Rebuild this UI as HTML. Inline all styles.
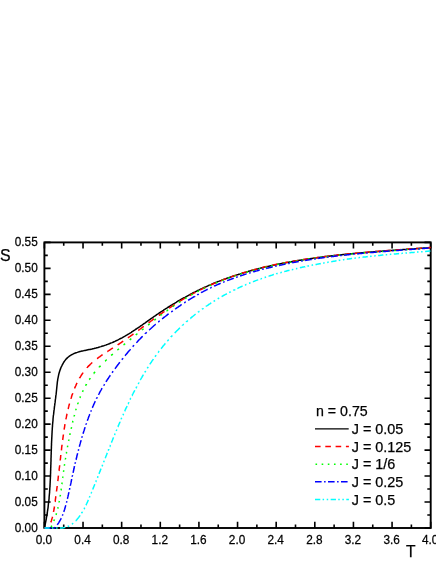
<!DOCTYPE html>
<html><head><meta charset="utf-8"><title>S vs T</title>
<style>
html,body{margin:0;padding:0;background:#fff;}
body{width:436px;height:564px;overflow:hidden;position:relative;font-family:"Liberation Sans",sans-serif;}
</style></head><body>
<svg width="436" height="564" viewBox="0 0 436 564" style="position:absolute;left:0;top:0">
<rect width="436" height="564" fill="#fff"/>
<path d="M44.40 528.00 v-6.20 M44.40 242.40 v6.20 M63.72 528.00 v-3.40 M63.72 242.40 v3.40 M83.03 528.00 v-6.20 M83.03 242.40 v6.20 M102.34 528.00 v-3.40 M102.34 242.40 v3.40 M121.66 528.00 v-6.20 M121.66 242.40 v6.20 M140.97 528.00 v-3.40 M140.97 242.40 v3.40 M160.29 528.00 v-6.20 M160.29 242.40 v6.20 M179.61 528.00 v-3.40 M179.61 242.40 v3.40 M198.92 528.00 v-6.20 M198.92 242.40 v6.20 M218.24 528.00 v-3.40 M218.24 242.40 v3.40 M237.55 528.00 v-6.20 M237.55 242.40 v6.20 M256.87 528.00 v-3.40 M256.87 242.40 v3.40 M276.18 528.00 v-6.20 M276.18 242.40 v6.20 M295.50 528.00 v-3.40 M295.50 242.40 v3.40 M314.81 528.00 v-6.20 M314.81 242.40 v6.20 M334.12 528.00 v-3.40 M334.12 242.40 v3.40 M353.44 528.00 v-6.20 M353.44 242.40 v6.20 M372.75 528.00 v-3.40 M372.75 242.40 v3.40 M392.07 528.00 v-6.20 M392.07 242.40 v6.20 M411.38 528.00 v-3.40 M411.38 242.40 v3.40 M430.70 528.00 v-6.20 M430.70 242.40 v6.20 M44.40 528.00 h6.20 M430.70 528.00 h-6.20 M44.40 515.02 h3.40 M430.70 515.02 h-3.40 M44.40 502.04 h6.20 M430.70 502.04 h-6.20 M44.40 489.05 h3.40 M430.70 489.05 h-3.40 M44.40 476.07 h6.20 M430.70 476.07 h-6.20 M44.40 463.09 h3.40 M430.70 463.09 h-3.40 M44.40 450.11 h6.20 M430.70 450.11 h-6.20 M44.40 437.13 h3.40 M430.70 437.13 h-3.40 M44.40 424.15 h6.20 M430.70 424.15 h-6.20 M44.40 411.16 h3.40 M430.70 411.16 h-3.40 M44.40 398.18 h6.20 M430.70 398.18 h-6.20 M44.40 385.20 h3.40 M430.70 385.20 h-3.40 M44.40 372.22 h6.20 M430.70 372.22 h-6.20 M44.40 359.24 h3.40 M430.70 359.24 h-3.40 M44.40 346.25 h6.20 M430.70 346.25 h-6.20 M44.40 333.27 h3.40 M430.70 333.27 h-3.40 M44.40 320.29 h6.20 M430.70 320.29 h-6.20 M44.40 307.31 h3.40 M430.70 307.31 h-3.40 M44.40 294.33 h6.20 M430.70 294.33 h-6.20 M44.40 281.35 h3.40 M430.70 281.35 h-3.40 M44.40 268.36 h6.20 M430.70 268.36 h-6.20 M44.40 255.38 h3.40 M430.70 255.38 h-3.40 M44.40 242.40 h6.20 M430.70 242.40 h-6.20" stroke="#000" stroke-width="1.6" fill="none"/>
<rect x="44.40" y="242.40" width="386.30" height="285.60" fill="none" stroke="#000" stroke-width="1.90"/>
<path d="M44.4 528.0L44.5 527.8L44.7 526.8L44.9 525.8L45.1 524.8L45.3 523.8L45.5 522.9L45.7 521.9L45.9 520.9L46.1 519.9L46.3 518.9L46.4 517.9L46.6 516.9L46.8 516.0L46.9 515.0L47.1 514.0L47.3 513.0L47.4 512.0L47.5 511.0L47.7 510.0L47.8 509.1L48.0 508.1L48.1 507.1L48.2 506.1L48.3 505.1L48.4 504.1L48.5 503.1L48.7 502.1L48.8 501.1L48.9 500.2L49.0 499.2L49.1 498.2L49.1 497.2L49.2 496.2L49.3 495.2L49.4 494.2L49.5 493.2L49.6 492.2L49.6 491.2L49.7 490.2L49.8 489.2L49.8 488.2L49.9 487.2L50.0 486.3L50.0 485.3L50.1 484.3L50.1 483.3L50.2 482.3L50.2 481.3L50.3 480.3L50.3 479.3L50.4 478.3L50.4 477.3L50.5 476.3L50.5 475.3L50.5 474.3L50.6 473.3L50.6 472.3L50.6 471.3L50.7 470.3L50.7 469.3L50.7 468.3L50.8 467.3L50.8 466.3L50.8 465.3L50.9 464.3L50.9 463.3L50.9 462.3L51.0 461.3L51.0 460.3L51.0 459.3L51.0 458.3L51.1 457.3L51.1 456.3L51.1 455.3L51.2 454.3L51.2 453.3L51.2 452.3L51.3 451.3L51.3 450.3L51.3 449.3L51.4 448.3L51.4 447.3L51.4 446.3L51.5 445.3L51.5 444.3L51.5 443.3L51.6 442.3L51.6 441.3L51.7 440.3L51.7 439.3L51.8 438.3L51.8 437.3L51.9 436.3L51.9 435.3L52.0 434.3L52.0 433.3L52.1 432.3L52.1 431.3L52.2 430.3L52.3 429.3L52.3 428.3L52.4 427.3L52.5 426.3L52.5 425.3L52.6 424.3L52.7 423.3L52.8 422.3L52.9 421.3L53.0 420.3L53.0 419.3L53.1 418.3L53.2 417.3L53.3 416.3L53.4 415.3L53.6 414.4L53.7 413.4L53.8 412.4L53.9 411.4L54.0 410.4L54.2 409.4L54.3 408.4L54.4 407.4L54.5 406.4L54.7 405.4L54.8 404.4L54.9 403.4L55.1 402.4L55.2 401.4L55.3 400.4L55.4 399.4L55.6 398.4L55.7 397.4L55.8 396.4L55.9 395.4L56.1 394.4L56.2 393.5L56.3 392.5L56.4 391.5L56.5 390.5L56.6 389.5L56.7 388.5L56.8 387.5L56.9 386.5L57.0 385.5L57.1 384.6L57.2 383.6L57.3 382.6L57.4 381.6L57.6 380.6L57.7 379.6L57.9 378.7L58.1 377.7L58.3 376.7L58.5 375.7L58.7 374.7L58.9 373.8L59.2 372.8L59.5 371.8L59.8 370.8L60.1 369.9L60.5 368.9L60.8 368.0L61.2 367.0L61.7 366.1L62.1 365.2L62.6 364.3L63.1 363.4L63.6 362.5L64.1 361.7L64.7 360.9L65.3 360.1L65.9 359.3L66.6 358.6L67.3 357.9L68.0 357.3L68.7 356.7L69.4 356.1L70.2 355.6L71.0 355.1L71.8 354.6L72.7 354.2L73.5 353.8L74.4 353.4L75.3 353.0L76.2 352.7L77.2 352.4L78.1 352.1L79.1 351.8L80.0 351.6L81.0 351.3L82.0 351.1L83.0 350.9L84.0 350.6L85.0 350.4L86.0 350.2L87.0 350.0L88.0 349.8L89.0 349.6L90.0 349.4L91.0 349.2L92.0 349.0L93.0 348.7L94.0 348.5L95.0 348.2L96.0 348.0L97.0 347.7L98.0 347.5L98.9 347.2L99.9 346.9L100.9 346.6L101.8 346.3L102.8 346.0L103.8 345.7L104.7 345.4L105.7 345.1L106.6 344.7L107.6 344.4L108.5 344.0L109.4 343.7L110.3 343.3L111.3 342.9L112.2 342.6L113.1 342.2L114.0 341.8L114.9 341.4L115.8 340.9L116.7 340.5L117.6 340.1L118.5 339.6L119.3 339.2L120.2 338.7L121.1 338.3L122.0 337.8L122.8 337.3L123.7 336.8L124.5 336.4L125.4 335.9L126.2 335.4L127.1 334.9L127.9 334.3L128.8 333.8L129.6 333.3L130.5 332.8L131.3 332.3L132.1 331.7L133.0 331.2L133.8 330.6L134.6 330.1L135.4 329.5L136.3 329.0L137.1 328.4L137.9 327.9L138.7 327.3L139.5 326.8L140.4 326.2L141.2 325.6L142.0 325.1L142.8 324.5L143.6 323.9L144.4 323.3L145.3 322.8L146.1 322.2L146.9 321.6L147.7 321.0L148.5 320.5L149.3 319.9L150.1 319.3L151.0 318.7L151.8 318.2L152.6 317.6L153.4 317.0L154.2 316.4L155.1 315.9L155.9 315.3L156.7 314.7L157.5 314.2L158.4 313.6L159.2 313.0L160.0 312.5L160.9 311.9L161.7 311.4L162.6 310.8L163.4 310.3L164.2 309.7L165.1 309.2L165.9 308.6L166.8 308.1L167.6 307.5L168.5 307.0L169.3 306.5L170.2 305.9L171.0 305.4L171.9 304.9L172.7 304.3L173.6 303.8L174.5 303.3L175.3 302.8L176.2 302.3L177.1 301.7L177.9 301.2L178.8 300.7L179.7 300.2L180.5 299.7L181.4 299.2L182.3 298.7L183.2 298.2L184.1 297.7L184.9 297.3L185.8 296.8L186.7 296.3L187.6 295.8L188.5 295.3L189.4 294.9L190.2 294.4L191.1 293.9L192.0 293.5L192.9 293.0L193.8 292.5L194.7 292.1L195.6 291.6L196.5 291.2L197.4 290.7L198.3 290.3L199.2 289.9L200.1 289.4L201.0 289.0L201.9 288.6L202.8 288.1L203.7 287.7L204.6 287.3L205.6 286.9L206.5 286.5L207.4 286.1L208.3 285.6L209.2 285.2L210.1 284.9L211.1 284.5L212.0 284.1L212.9 283.7L213.8 283.3L214.7 282.9L215.7 282.5L216.6 282.2L217.5 281.8L218.4 281.4L219.4 281.1L220.3 280.7L221.2 280.4L222.2 280.0L223.1 279.6L224.0 279.3L225.0 279.0L225.9 278.6L226.8 278.3L227.8 277.9L228.7 277.6L229.7 277.3L230.6 277.0L231.5 276.6L232.5 276.3L233.4 276.0L234.4 275.7L235.3 275.4L236.3 275.1L237.2 274.8L238.2 274.5L239.1 274.2L240.1 273.9L241.0 273.6L242.0 273.3L242.9 273.0L243.9 272.7L244.8 272.4L245.8 272.2L246.7 271.9L247.7 271.6L248.6 271.3L249.6 271.1L250.6 270.8L251.5 270.5L252.5 270.3L253.4 270.0L254.4 269.8L255.4 269.5L256.3 269.3L257.3 269.0L258.3 268.8L259.2 268.5L260.2 268.3L261.2 268.0L262.1 267.8L263.1 267.6L264.1 267.3L265.0 267.1L266.0 266.9L267.0 266.7L267.9 266.4L268.9 266.2L269.9 266.0L270.9 265.8L271.8 265.6L272.8 265.4L273.8 265.1L274.8 264.9L275.7 264.7L276.7 264.5L277.7 264.3L278.7 264.1L279.6 263.9L280.6 263.7L281.6 263.5L282.6 263.3L283.6 263.1L284.5 263.0L285.5 262.8L286.5 262.6L287.5 262.4L288.5 262.2L289.4 262.0L290.4 261.9L291.4 261.7L292.4 261.5L293.4 261.3L294.4 261.2L295.3 261.0L296.3 260.8L297.3 260.7L298.3 260.5L299.3 260.3L300.3 260.2L301.3 260.0L302.2 259.9L303.2 259.7L304.2 259.5L305.2 259.4L306.2 259.2L307.2 259.1L308.2 258.9L309.2 258.8L310.2 258.7L311.1 258.5L312.1 258.4L313.1 258.2L314.1 258.1L315.1 257.9L316.1 257.8L317.1 257.7L318.1 257.5L319.1 257.4L320.1 257.3L321.1 257.2L322.1 257.0L323.1 256.9L324.1 256.8L325.0 256.6L326.0 256.5L327.0 256.4L328.0 256.3L329.0 256.2L330.0 256.0L331.0 255.9L332.0 255.8L333.0 255.7L334.0 255.6L335.0 255.5L336.0 255.4L337.0 255.2L338.0 255.1L339.0 255.0L340.0 254.9L341.0 254.8L342.0 254.7L343.0 254.6L344.0 254.5L345.0 254.4L346.0 254.3L347.0 254.2L348.0 254.1L349.0 254.0L350.0 253.9L351.0 253.8L352.0 253.7L353.0 253.6L354.0 253.5L355.0 253.4L356.0 253.3L357.0 253.2L358.0 253.2L359.0 253.1L360.0 253.0L361.0 252.9L362.0 252.8L363.0 252.7L364.0 252.6L365.0 252.5L366.0 252.5L367.0 252.4L368.0 252.3L369.0 252.2L370.0 252.1L371.0 252.0L372.0 252.0L373.0 251.9L374.0 251.8L375.0 251.7L376.0 251.6L377.0 251.6L378.0 251.5L379.0 251.4L380.0 251.3L380.9 251.2L381.9 251.2L382.9 251.1L383.9 251.0L384.9 250.9L385.9 250.9L386.9 250.8L387.9 250.7L388.9 250.6L389.9 250.6L390.9 250.5L391.9 250.4L392.9 250.3L393.9 250.3L394.9 250.2L395.9 250.1L396.9 250.1L397.9 250.0L398.9 249.9L399.9 249.8L400.9 249.8L401.9 249.7L402.9 249.6L403.9 249.6L404.9 249.5L405.9 249.4L406.9 249.3L407.9 249.3L408.9 249.2L409.9 249.1L410.9 249.1L411.9 249.0L412.8 248.9L413.8 248.8L414.8 248.8L415.8 248.7L416.8 248.6L417.8 248.6L418.8 248.5L419.8 248.4L420.8 248.3L421.8 248.3L422.8 248.2L423.8 248.1L424.8 248.0L425.7 248.0L426.7 247.9L427.7 247.8L428.7 247.7L429.7 247.7L430.7 247.6" stroke="#000" stroke-width="1.5" fill="none" stroke-linejoin="round"/>
<path d="M44.4 528.0L48.6 528.0L48.9 527.3L49.0 527.1 M50.8 522.4L50.9 522.2L51.1 521.5L51.4 520.8L51.6 520.0L51.8 519.3L52.0 518.6L52.2 517.9L52.4 517.2L52.5 516.8 M53.5 512.1L53.5 511.9L53.7 511.2L53.8 510.5L53.9 509.8L54.1 509.0L54.2 508.3L54.3 507.6L54.4 506.9L54.5 506.5 M55.1 501.8L55.2 501.7L55.3 501.0L55.3 500.3L55.4 499.5L55.5 498.8L55.6 498.1L55.7 497.3L55.8 496.6L55.9 496.2 M56.5 491.5L56.5 491.4L56.6 490.6L56.7 489.9L56.8 489.2L56.9 488.4L57.0 487.7L57.1 486.9L57.2 486.2L57.2 485.9 M57.8 481.2L57.8 481.2L57.9 480.5L58.0 479.7L58.1 479.0L58.2 478.2L58.2 477.5L58.3 476.7L58.4 476.0L58.5 475.6 M59.0 470.9L59.1 470.7L59.1 470.0L59.2 469.2L59.3 468.5L59.4 467.7L59.5 467.0L59.6 466.2L59.7 465.5L59.7 465.3 M60.2 460.6L60.2 460.5L60.3 459.7L60.4 459.0L60.5 458.2L60.6 457.5L60.6 456.7L60.7 456.0L60.8 455.2L60.8 455.0 M61.4 450.3L61.4 450.3L61.5 449.5L61.6 448.8L61.6 448.0L61.7 447.3L61.8 446.5L61.9 445.8L62.0 445.0L62.0 444.7 M62.6 440.0L62.7 439.8L62.8 439.1L62.9 438.3L63.0 437.6L63.1 436.9L63.2 436.1L63.3 435.4L63.4 434.6L63.4 434.4 M64.1 429.7L64.1 429.7L64.2 429.0L64.3 428.2L64.5 427.5L64.6 426.7L64.7 426.0L64.8 425.3L64.9 424.5L65.0 424.1 M65.9 419.4L65.9 419.4L66.0 418.6L66.2 417.9L66.3 417.2L66.5 416.4L66.6 415.7L66.8 415.0L66.9 414.2L67.0 413.8 M68.1 409.1L68.1 409.1L68.3 408.4L68.5 407.6L68.6 406.9L68.8 406.2L69.0 405.4L69.2 404.7L69.4 404.0L69.5 403.5 M70.9 398.8L70.9 398.7L71.2 398.0L71.4 397.2L71.6 396.5L71.8 395.8L72.1 395.1L72.3 394.4L72.6 393.7L72.7 393.2 M74.5 388.5L74.6 388.3L74.9 387.6L75.2 386.9L75.5 386.2L75.8 385.6L76.1 384.9L76.4 384.2L76.7 383.5L77.1 382.9 M79.6 378.2L79.6 378.1L80.0 377.5L80.4 376.8L80.8 376.2L81.1 375.6L81.5 375.0L82.0 374.3L82.4 373.7L82.8 373.1L83.2 372.6 M86.9 367.9L87.0 367.7L87.5 367.2L88.0 366.6L88.5 366.1L89.0 365.6L89.6 365.1L90.1 364.5L90.6 364.0L91.2 363.5L91.7 363.0L92.3 362.5L92.3 362.5 M97.0 358.7L97.2 358.6L97.8 358.1L98.4 357.6L99.0 357.2L99.6 356.8L100.2 356.3L100.8 355.9L101.5 355.4L102.1 355.0L102.6 354.7 M107.3 351.5L107.4 351.5L108.0 351.1L108.7 350.7L109.3 350.3L109.9 349.9L110.6 349.4L111.2 349.0L111.8 348.6L112.5 348.2L112.9 347.9 M117.6 344.9L117.7 344.8L118.3 344.4L119.0 344.0L119.6 343.6L120.2 343.2L120.8 342.8L121.4 342.4L122.1 341.9L122.7 341.5L123.2 341.2 M127.9 337.9L128.0 337.8L128.6 337.4L129.3 337.0L129.9 336.5L130.5 336.1L131.1 335.6L131.7 335.2L132.3 334.8L132.9 334.3L133.5 333.9 M138.2 330.5L138.4 330.4L139.0 329.9L139.6 329.5L140.2 329.0L140.8 328.6L141.4 328.1L142.0 327.7L142.6 327.2L143.2 326.8L143.8 326.4 M148.5 322.9L148.7 322.8L149.3 322.3L149.9 321.9L150.5 321.4L151.1 321.0L151.7 320.6L152.3 320.1L152.9 319.7L153.5 319.2L154.1 318.8 M158.8 315.4L159.0 315.3L159.6 314.8L160.2 314.4L160.8 313.9L161.5 313.5L162.1 313.1L162.7 312.6L163.3 312.2L163.9 311.8L164.4 311.4 M169.1 308.2L169.3 308.1L169.9 307.7L170.5 307.3L171.1 306.8L171.7 306.4L172.4 306.0L173.0 305.6L173.6 305.2L174.2 304.8L174.7 304.5 M179.4 301.5L179.5 301.4L180.1 301.0L180.8 300.7L181.4 300.3L182.1 299.9L182.7 299.5L183.3 299.1L184.0 298.7L184.6 298.3L185.0 298.1 M189.7 295.5L189.8 295.4L190.5 295.0L191.1 294.7L191.8 294.3L192.5 293.9L193.1 293.6L193.8 293.2L194.4 292.9L195.1 292.5L195.3 292.4 M200.0 290.0L200.2 289.9L200.9 289.6L201.5 289.3L202.2 288.9L202.9 288.6L203.6 288.3L204.2 288.0L204.9 287.6L205.6 287.3L205.6 287.3 M210.3 285.2L210.3 285.1L211.0 284.8L211.7 284.5L212.4 284.2L213.1 283.9L213.8 283.6L214.5 283.3L215.1 283.1L215.8 282.8L215.9 282.7 M220.6 280.8L220.7 280.8L221.4 280.5L222.1 280.2L222.8 279.9L223.5 279.7L224.2 279.4L224.9 279.1L225.6 278.9L226.2 278.6 M230.9 276.9L231.0 276.9L231.7 276.6L232.4 276.4L233.1 276.1L233.8 275.9L234.5 275.7L235.2 275.4L235.9 275.2L236.5 275.0 M241.2 273.4L241.4 273.4L242.1 273.2L242.8 272.9L243.5 272.7L244.2 272.5L245.0 272.3L245.7 272.1L246.4 271.9L246.8 271.7 M251.5 270.4L251.7 270.3L252.4 270.1L253.1 269.9L253.9 269.7L254.6 269.5L255.3 269.4L256.0 269.2L256.8 269.0L257.1 268.9 M261.8 267.7L261.8 267.7L262.6 267.5L263.3 267.3L264.0 267.1L264.8 267.0L265.5 266.8L266.2 266.6L267.0 266.5L267.4 266.4 M272.1 265.3L272.3 265.3L273.1 265.1L273.8 264.9L274.5 264.8L275.3 264.6L276.0 264.5L276.8 264.3L277.5 264.2L277.7 264.1 M282.4 263.2L282.7 263.2L283.4 263.0L284.1 262.9L284.9 262.7L285.6 262.6L286.3 262.5L287.1 262.3L287.8 262.2L288.0 262.2 M292.7 261.3L292.8 261.3L293.5 261.2L294.2 261.1L295.0 261.0L295.7 260.8L296.5 260.7L297.2 260.6L298.0 260.5L298.3 260.4 M303.0 259.7L303.2 259.6L303.9 259.5L304.6 259.4L305.4 259.3L306.1 259.2L306.9 259.1L307.6 259.0L308.4 258.9L308.6 258.8 M313.3 258.2L313.6 258.1L314.3 258.0L315.0 257.9L315.8 257.8L316.5 257.7L317.3 257.6L318.0 257.5L318.8 257.4L318.9 257.4 M323.6 256.8L323.7 256.8L324.5 256.7L325.2 256.6L325.9 256.5L326.7 256.4L327.4 256.3L328.2 256.2L328.9 256.1L329.2 256.1 M333.9 255.6L334.1 255.5L334.9 255.4L335.6 255.4L336.4 255.3L337.1 255.2L337.8 255.1L338.6 255.0L339.3 255.0L339.5 254.9 M344.2 254.4L344.3 254.4L345.0 254.3L345.8 254.3L346.5 254.2L347.3 254.1L348.0 254.0L348.8 254.0L349.5 253.9L349.8 253.9 M354.5 253.4L354.7 253.4L355.5 253.3L356.2 253.2L357.0 253.2L357.7 253.1L358.4 253.0L359.2 253.0L359.9 252.9L360.1 252.9 M364.8 252.5L364.9 252.5L365.6 252.4L366.4 252.3L367.1 252.3L367.9 252.2L368.6 252.1L369.4 252.1L370.1 252.0L370.4 252.0 M375.1 251.6L375.3 251.6L376.1 251.5L376.8 251.4L377.6 251.4L378.3 251.3L379.1 251.3L379.8 251.2L380.6 251.1L380.7 251.1 M385.4 250.8L385.5 250.8L386.3 250.7L387.0 250.6L387.8 250.6L388.5 250.5L389.3 250.5L390.0 250.4L390.8 250.4L391.0 250.3 M395.7 250.0L395.8 250.0L396.5 249.9L397.2 249.9L398.0 249.8L398.7 249.8L399.5 249.7L400.2 249.7L401.0 249.6L401.3 249.6 M406.0 249.2L406.2 249.2L407.0 249.2L407.7 249.1L408.5 249.1L409.2 249.0L410.0 249.0L410.7 248.9L411.5 248.9L411.6 248.9 M416.3 248.5L416.5 248.5L417.2 248.5L418.0 248.4L418.7 248.4L419.5 248.3L420.2 248.2L421.0 248.2L421.7 248.1L421.9 248.1 M426.6 247.8L426.7 247.8L427.5 247.7L428.2 247.7L429.0 247.6L429.7 247.6L430.5 247.5L430.7 247.5" stroke="#ff0000" stroke-width="1.50" fill="none"/>
<path d="M45.3 528.0L46.9 528.0 M51.0 527.2L51.1 527.1L51.4 526.4L51.7 525.8L51.8 525.6 M53.8 521.0L53.8 521.0L54.1 520.3L54.4 519.6L54.4 519.4 M56.0 514.9L56.1 514.7L56.3 514.0L56.5 513.3L56.5 513.3 M57.7 508.7L57.8 508.5L57.9 507.8L58.1 507.1 M59.1 502.6L59.1 502.4L59.2 501.7L59.4 501.0L59.4 501.0 M60.1 496.4L60.1 496.3L60.3 495.6L60.4 494.8L60.4 494.8 M61.0 490.3L61.1 490.1L61.2 489.4L61.3 488.7 M61.8 484.1L61.9 483.9L62.0 483.2L62.0 482.5 M62.6 478.0L62.7 477.7L62.8 477.0L62.8 476.4 M63.5 471.8L63.5 471.8L63.6 471.0L63.7 470.3L63.7 470.2 M64.4 465.7L64.4 465.6L64.5 464.8L64.6 464.1L64.6 464.1 M65.3 459.5L65.3 459.4L65.5 458.7L65.6 457.9L65.6 457.9 M66.3 453.4L66.4 453.3L66.5 452.5L66.6 451.8L66.6 451.8 M67.5 447.2L67.5 447.1L67.6 446.4L67.7 445.6L67.7 445.6 M68.6 441.1L68.6 441.0L68.8 440.2L68.9 439.5L68.9 439.5 M69.9 434.9L69.9 434.8L70.0 434.1L70.2 433.3L70.2 433.3 M71.2 428.8L71.2 428.7L71.4 427.9L71.5 427.2L71.5 427.2 M72.6 422.6L72.6 422.5L72.8 421.8L72.9 421.1L73.0 421.0 M74.1 416.5L74.1 416.4L74.3 415.7L74.5 415.0L74.5 414.9 M75.8 410.3L75.8 410.1L76.0 409.4L76.2 408.7 M77.7 404.2L77.7 404.1L77.9 403.4L78.2 402.7L78.2 402.6 M79.9 398.0L80.0 397.8L80.2 397.1L80.5 396.4L80.5 396.4 M82.5 391.9L82.6 391.7L82.9 391.0L83.2 390.3L83.2 390.3 M85.5 385.7L85.7 385.5L86.0 384.8L86.4 384.2L86.4 384.1 M89.2 379.6L89.4 379.4L89.8 378.8L90.2 378.2L90.3 378.0 M93.7 373.4L93.8 373.4L94.2 372.8L94.7 372.2L95.0 371.8 M99.1 367.3L99.1 367.2L99.7 366.6L100.2 366.1L100.6 365.7 M105.1 361.1L105.2 361.1L105.7 360.5L106.3 360.0L106.7 359.6 M111.2 355.5L111.3 355.4L111.8 354.9L112.4 354.4L112.8 354.0 M117.4 350.1L117.5 350.0L118.1 349.5L118.7 349.0L119.0 348.7 M123.5 344.9L123.7 344.8L124.2 344.4L124.8 343.9L125.1 343.6 M129.7 339.9L129.8 339.8L130.4 339.3L131.0 338.8L131.3 338.6 M135.8 335.0L135.9 334.9L136.4 334.5L137.0 334.0L137.4 333.7 M142.0 330.0L142.1 329.9L142.7 329.4L143.3 329.0L143.6 328.7 M148.1 325.1L148.2 325.0L148.7 324.6L149.3 324.1L149.7 323.8 M154.3 320.2L154.5 320.1L155.1 319.6L155.6 319.2L155.9 319.0 M160.4 315.5L160.4 315.5L161.0 315.0L161.6 314.6L162.0 314.3 M166.6 310.9L166.7 310.9L167.3 310.4L167.9 310.0L168.2 309.8 M172.7 306.6L172.8 306.5L173.4 306.1L174.0 305.7L174.3 305.5 M178.9 302.5L179.0 302.4L179.6 302.0L180.3 301.6L180.5 301.4 M185.0 298.6L185.1 298.5L185.8 298.1L186.4 297.8L186.6 297.6 M191.2 295.0L191.4 294.9L192.0 294.5L192.7 294.2L192.8 294.1 M197.3 291.7L197.5 291.6L198.2 291.3L198.8 290.9L198.9 290.9 M203.5 288.6L203.5 288.6L204.2 288.3L204.9 287.9L205.1 287.8 M209.6 285.7L209.8 285.6L210.5 285.3L211.2 285.0L211.2 285.0 M215.8 283.1L215.8 283.1L216.5 282.8L217.2 282.5L217.4 282.4 M221.9 280.6L222.0 280.6L222.7 280.3L223.4 280.0L223.5 280.0 M228.1 278.3L228.1 278.3L228.8 278.0L229.5 277.8L229.7 277.7 M234.2 276.1L234.3 276.1L235.0 275.9L235.7 275.6L235.8 275.6 M240.4 274.1L240.4 274.1L241.2 273.9L241.9 273.6L242.0 273.6 M246.5 272.2L246.7 272.2L247.4 272.0L248.1 271.8L248.1 271.8 M252.7 270.5L252.7 270.5L253.4 270.3L254.1 270.1L254.3 270.0 M258.8 268.8L259.0 268.8L259.7 268.6L260.4 268.4 M265.0 267.3L265.1 267.3L265.8 267.1L266.5 266.9L266.6 266.9 M271.1 265.9L271.2 265.9L271.9 265.7L272.6 265.5L272.7 265.5 M277.3 264.5L277.3 264.5L278.0 264.4L278.7 264.2L278.9 264.2 M283.4 263.3L283.6 263.2L284.4 263.1L285.0 263.0 M289.6 262.1L289.8 262.1L290.5 262.0L291.2 261.8 M295.7 261.0L295.9 261.0L296.7 260.9L297.3 260.8 M301.9 260.0L302.1 260.0L302.8 259.9L303.5 259.8 M308.0 259.1L308.3 259.0L309.0 258.9L309.6 258.8 M314.2 258.2L314.2 258.2L314.9 258.1L315.7 258.0L315.8 258.0 M320.3 257.4L320.4 257.4L321.1 257.3L321.9 257.2L321.9 257.2 M326.5 256.6L326.6 256.6L327.3 256.5L328.1 256.4 M332.6 255.9L332.8 255.9L333.5 255.8L334.2 255.7 M338.8 255.2L339.0 255.2L339.7 255.1L340.4 255.1 M344.9 254.6L345.0 254.6L345.7 254.5L346.5 254.4L346.5 254.4 M351.1 254.0L351.2 254.0L351.9 253.9L352.7 253.8 M357.2 253.4L357.4 253.4L358.2 253.4L358.8 253.3 M363.4 252.9L363.4 252.9L364.1 252.8L364.9 252.8L365.0 252.8 M369.5 252.4L369.6 252.4L370.4 252.3L371.1 252.3 M375.7 251.9L375.9 251.9L376.6 251.8L377.3 251.8 M381.8 251.4L381.9 251.4L382.6 251.4L383.4 251.3L383.4 251.3 M388.0 251.0L388.1 251.0L388.8 250.9L389.6 250.9 M394.1 250.5L394.3 250.5L395.1 250.5L395.7 250.4 M400.3 250.1L400.3 250.1L401.1 250.0L401.8 250.0L401.9 250.0 M406.4 249.6L406.5 249.6L407.3 249.6L408.0 249.5 M412.6 249.2L412.8 249.2L413.5 249.1L414.2 249.1 M418.7 248.7L418.8 248.7L419.5 248.7L420.2 248.6L420.3 248.6 M424.9 248.3L425.0 248.2L425.7 248.2L426.5 248.1L426.5 248.1" stroke="#00ff00" stroke-width="1.50" fill="none"/>
<path d="M44.8 528.0L51.4 528.0 M53.9 528.0L54.6 528.0L55.1 527.5L55.3 527.2 M57.3 524.8L57.4 524.6L57.8 524.0L58.3 523.4L58.7 522.8L59.0 522.2L59.4 521.6L59.8 521.0L60.1 520.3L60.5 519.7L60.8 519.1L61.1 518.4L61.2 518.2 M62.3 515.7L62.4 515.5L62.7 514.8L62.9 514.2 M63.8 511.8L63.9 511.6L64.1 510.9L64.3 510.2L64.6 509.4L64.8 508.7L65.0 508.0L65.2 507.3L65.4 506.6L65.6 505.9L65.8 505.2 M66.4 502.7L66.5 502.5L66.7 501.7L66.8 501.2 M67.4 498.8L67.5 498.6L67.6 497.9L67.8 497.1L68.0 496.4L68.1 495.7L68.3 494.9L68.5 494.2L68.6 493.5L68.8 492.7L68.9 492.2 M69.5 489.7L69.5 489.6L69.7 488.8L69.8 488.2 M70.3 485.8L70.3 485.7L70.5 484.9L70.6 484.2L70.8 483.5L71.0 482.7L71.1 482.0L71.3 481.3L71.4 480.5L71.6 479.8L71.7 479.2 M72.2 476.7L72.2 476.6L72.4 475.9L72.5 475.2 M73.1 472.8L73.1 472.7L73.3 472.0L73.4 471.2L73.6 470.5L73.7 469.8L73.9 469.0L74.1 468.3L74.2 467.5L74.4 466.8L74.5 466.2 M75.1 463.7L75.1 463.6L75.3 462.9L75.5 462.2 M76.0 459.8L76.1 459.7L76.2 459.0L76.4 458.2L76.6 457.5L76.8 456.8L76.9 456.0L77.1 455.3L77.3 454.6L77.5 453.8L77.7 453.2 M78.3 450.7L78.3 450.7L78.5 449.9L78.7 449.2L78.7 449.2 M79.3 446.8L79.3 446.8L79.5 446.1L79.7 445.3L79.9 444.6L80.1 443.9L80.3 443.1L80.5 442.4L80.7 441.7L80.9 441.0L81.1 440.3L81.1 440.2 M81.9 437.7L81.9 437.6L82.1 436.9L82.3 436.2 M83.0 433.8L83.0 433.8L83.3 433.1L83.5 432.3L83.7 431.6L83.9 430.9L84.2 430.2L84.4 429.5L84.6 428.8L84.8 428.1L85.1 427.3L85.1 427.2 M86.0 424.7L86.0 424.5L86.3 423.8L86.5 423.2 M87.3 420.8L87.3 420.8L87.6 420.1L87.8 419.4L88.1 418.7L88.3 418.0L88.6 417.3L88.9 416.6L89.1 415.9L89.4 415.2L89.6 414.5L89.8 414.2 M90.7 411.7L90.8 411.5L91.1 410.8L91.3 410.2 M92.3 407.8L92.4 407.6L92.7 406.9L93.0 406.2L93.3 405.6L93.6 404.9L93.9 404.2L94.2 403.5L94.5 402.9L94.8 402.2L95.1 401.5L95.3 401.2 M96.5 398.7L96.5 398.6L96.9 397.9L97.2 397.3L97.2 397.2 M98.5 394.8L98.6 394.6L98.9 394.0L99.3 393.3L99.6 392.6L100.0 392.0L100.3 391.3L100.7 390.7L101.1 390.0L101.4 389.4L101.8 388.7L102.1 388.2 M103.6 385.7L103.6 385.7L104.0 385.1L104.4 384.4L104.5 384.2 M106.0 381.8L106.1 381.6L106.5 381.0L106.9 380.4L107.3 379.7L107.8 379.1L108.2 378.5L108.6 377.8L109.0 377.2L109.4 376.6L109.9 376.0L110.3 375.3L110.4 375.2 M112.1 372.7L112.2 372.6L112.6 372.0L113.0 371.4L113.2 371.2 M114.9 368.8L115.0 368.7L115.4 368.1L115.9 367.5L116.3 366.9L116.8 366.3L117.2 365.7L117.7 365.1L118.1 364.5L118.6 363.9L119.0 363.3L119.5 362.7L119.9 362.2 M121.8 359.7L121.9 359.6L122.4 359.0L122.9 358.4L123.0 358.2 M125.0 355.8L125.1 355.7L125.5 355.1L126.0 354.5L126.5 353.9L127.0 353.4L127.5 352.8L127.9 352.2L128.4 351.6L128.9 351.1L129.4 350.5L129.9 350.0L130.4 349.4L130.5 349.2 M132.7 346.7L132.8 346.6L133.3 346.0L133.8 345.5L134.1 345.2 M136.3 342.8L136.4 342.7L136.9 342.2L137.4 341.7L137.9 341.1L138.4 340.6L138.9 340.0L139.4 339.5L140.0 339.0L140.5 338.4L141.0 337.9L141.5 337.4L142.0 336.9L142.6 336.3L142.7 336.2 M145.2 333.8L145.2 333.7L145.8 333.2L146.3 332.7L146.7 332.3 M149.1 330.1L149.2 330.0L149.8 329.5L150.3 329.0L150.9 328.5L151.4 328.0L152.0 327.5L152.5 327.0L153.1 326.5L153.6 326.0L154.2 325.5L154.8 325.0L155.3 324.5L155.7 324.2 M158.2 322.1L158.4 322.0L158.9 321.5L159.5 321.0L159.7 320.9 M162.1 318.9L162.2 318.8L162.8 318.3L163.4 317.9L164.0 317.4L164.6 316.9L165.2 316.5L165.8 316.0L166.4 315.6L167.0 315.1L167.5 314.7L168.1 314.2L168.7 313.8 M171.2 311.9L171.4 311.8L172.0 311.4L172.6 310.9L172.7 310.8 M175.1 309.1L175.2 309.0L175.8 308.6L176.5 308.1L177.1 307.7L177.7 307.3L178.3 306.8L178.9 306.4L179.6 306.0L180.2 305.6L180.8 305.1L181.4 304.7L181.7 304.5 M184.2 302.9L184.4 302.8L185.0 302.3L185.6 301.9L185.7 301.9 M188.1 300.4L188.2 300.3L188.8 299.9L189.5 299.5L190.1 299.1L190.8 298.7L191.4 298.3L192.1 297.9L192.7 297.5L193.4 297.1L194.0 296.7L194.7 296.4L194.7 296.3 M197.2 294.9L197.3 294.8L197.9 294.5L198.6 294.1L198.7 294.0 M201.1 292.7L201.2 292.6L201.9 292.3L202.5 291.9L203.2 291.6L203.9 291.2L204.5 290.9L205.2 290.5L205.9 290.2L206.5 289.8L207.2 289.5L207.7 289.3 M210.2 288.0L210.4 288.0L211.0 287.6L211.7 287.3 M214.1 286.2L214.2 286.1L214.9 285.8L215.6 285.5L216.2 285.2L216.9 284.9L217.6 284.6L218.3 284.3L219.0 284.0L219.7 283.7L220.4 283.4L220.7 283.3 M223.2 282.2L223.3 282.2L224.0 281.9L224.7 281.6 M227.1 280.7L227.3 280.6L228.0 280.3L228.7 280.1L229.4 279.8L230.1 279.5L230.8 279.3L231.5 279.0L232.2 278.8L232.9 278.5L233.6 278.3L233.7 278.2 M236.2 277.3L236.4 277.3L237.1 277.0L237.7 276.8 M240.1 276.0L240.1 276.0L240.8 275.7L241.5 275.5L242.3 275.3L243.0 275.1L243.7 274.8L244.4 274.6L245.1 274.4L245.8 274.1L246.5 273.9L246.7 273.9 M249.2 273.1L249.4 273.1L250.1 272.8L250.7 272.7 M253.1 272.0L253.2 271.9L253.9 271.7L254.6 271.5L255.3 271.3L256.1 271.1L256.8 270.9L257.5 270.7L258.2 270.5L258.9 270.3L259.7 270.1L259.7 270.1 M262.2 269.5L262.3 269.4L263.0 269.2L263.7 269.1 M266.1 268.5L266.2 268.4L266.9 268.3L267.6 268.1L268.3 267.9L269.1 267.7L269.8 267.6L270.5 267.4L271.3 267.2L272.0 267.0L272.7 266.9 M275.2 266.3L275.4 266.2L276.1 266.1L276.7 265.9 M279.1 265.4L279.3 265.4L280.0 265.2L280.7 265.1L281.5 264.9L282.2 264.8L282.9 264.6L283.7 264.4L284.4 264.3L285.1 264.1L285.7 264.0 M288.2 263.5L288.3 263.5L289.0 263.4L289.7 263.2 M292.1 262.8L292.2 262.7L293.0 262.6L293.7 262.5L294.4 262.3L295.2 262.2L295.9 262.1L296.6 261.9L297.4 261.8L298.1 261.7L298.7 261.6 M301.2 261.1L301.3 261.1L302.1 261.0L302.7 260.9 M305.1 260.5L305.3 260.4L306.0 260.3L306.7 260.2L307.5 260.1L308.2 259.9L309.0 259.8L309.7 259.7L310.5 259.6L311.2 259.5L311.7 259.4 M314.2 259.0L314.4 259.0L315.2 258.9L315.7 258.8 M318.1 258.5L318.1 258.4L318.9 258.3L319.6 258.2L320.4 258.1L321.1 258.0L321.9 257.9L322.6 257.8L323.3 257.7L324.1 257.6L324.7 257.5 M327.2 257.2L327.3 257.2L328.1 257.1L328.7 257.0 M331.1 256.7L331.3 256.7L332.0 256.6L332.8 256.5L333.5 256.4L334.3 256.3L335.0 256.2L335.8 256.1L336.5 256.0L337.3 256.0L337.7 255.9 M340.2 255.6L340.3 255.6L341.0 255.5L341.7 255.5 M344.1 255.2L344.3 255.2L345.0 255.1L345.8 255.0L346.5 254.9L347.3 254.8L348.0 254.8L348.8 254.7L349.5 254.6L350.3 254.5L350.7 254.5 M353.2 254.2L353.2 254.2L354.0 254.1L354.7 254.1 M357.1 253.8L357.2 253.8L358.0 253.8L358.7 253.7L359.5 253.6L360.2 253.5L361.0 253.5L361.7 253.4L362.5 253.3L363.2 253.3L363.7 253.2 M366.2 253.0L366.2 253.0L367.0 252.9L367.7 252.9 M370.1 252.6L370.2 252.6L371.0 252.6L371.7 252.5L372.5 252.4L373.2 252.4L374.0 252.3L374.7 252.2L375.5 252.2L376.2 252.1L376.7 252.1 M379.2 251.9L379.2 251.9L380.0 251.8L380.7 251.7 M383.1 251.6L383.2 251.5L384.0 251.5L384.7 251.4L385.5 251.4L386.2 251.3L387.0 251.2L387.7 251.2L388.5 251.1L389.2 251.1L389.7 251.0 M392.2 250.8L392.2 250.8L393.0 250.8L393.7 250.7 M396.1 250.5L396.2 250.5L397.0 250.5L397.7 250.4L398.4 250.4L399.2 250.3L399.9 250.2L400.7 250.2L401.4 250.1L402.2 250.1L402.7 250.0 M405.2 249.8L405.4 249.8L406.2 249.8L406.7 249.7 M409.1 249.5L409.1 249.5L409.9 249.5L410.6 249.4L411.4 249.4L412.1 249.3L412.9 249.3L413.6 249.2L414.4 249.2L415.1 249.1L415.7 249.1 M418.2 248.9L418.3 248.9L419.1 248.8L419.7 248.7 M422.1 248.6L422.3 248.6L423.0 248.5L423.8 248.4L424.5 248.4L425.3 248.3L426.0 248.3L426.7 248.2L427.5 248.1L428.2 248.1L428.7 248.1" stroke="#0000ff" stroke-width="1.50" fill="none"/>
<path d="M44.4 528.0L49.7 528.0 M52.0 528.0L53.5 528.0 M56.1 528.0L57.6 528.0 M60.0 528.0L60.2 528.0L61.0 528.0L61.8 528.0L62.5 527.9L63.3 527.8L64.0 527.6L64.7 527.5L65.3 527.3 M67.7 526.5L67.7 526.5L68.3 526.2L69.0 525.9L69.2 525.8 M71.8 524.2L71.8 524.2L72.4 523.8L73.0 523.3L73.2 523.1 M75.7 520.8L75.8 520.8L76.3 520.2L76.8 519.7L77.3 519.1L77.7 518.6L78.2 518.0L78.7 517.4L79.1 516.8L79.5 516.2L80.0 515.6L80.0 515.5 M81.5 513.2L81.6 513.1L82.0 512.5L82.4 511.8L82.4 511.7 M83.9 509.1L84.0 509.0L84.4 508.3L84.7 507.6 M85.9 505.2L86.0 505.1L86.3 504.4L86.6 503.8L86.9 503.1L87.3 502.4L87.6 501.7L87.9 501.0L88.2 500.3L88.4 499.9 M89.4 497.6L89.4 497.5L89.7 496.8L90.0 496.1 M91.1 493.5L91.1 493.5L91.4 492.8L91.6 492.1L91.7 492.0 M92.7 489.5L92.7 489.5L93.0 488.8L93.3 488.1L93.5 487.4L93.8 486.7L94.1 486.0L94.4 485.3L94.7 484.6L94.8 484.2 M95.7 481.9L95.8 481.8L96.1 481.1L96.3 480.4 M97.4 477.8L97.5 477.6L97.8 476.9L98.0 476.3 M99.0 473.9L99.1 473.7L99.3 473.0L99.6 472.3L99.9 471.6L100.2 470.9L100.4 470.2L100.7 469.5L101.0 468.8L101.1 468.6 M102.0 466.3L102.1 466.1L102.4 465.4L102.6 464.8 M103.6 462.2L103.6 462.2L103.9 461.5L104.2 460.8L104.2 460.7 M105.2 458.2L105.2 458.2L105.5 457.5L105.7 456.9L106.0 456.2L106.3 455.5L106.6 454.8L106.8 454.1L107.1 453.4L107.3 452.9 M108.2 450.6L108.2 450.6L108.5 449.9L108.8 449.2L108.8 449.1 M109.8 446.5L109.9 446.5L110.2 445.8L110.4 445.1L110.5 445.0 M111.4 442.6L111.5 442.5L111.7 441.8L112.0 441.1L112.3 440.5L112.6 439.8L112.9 439.1L113.1 438.4L113.4 437.7L113.6 437.3 M114.5 435.0L114.6 434.9L114.8 434.2L115.1 433.5L115.1 433.5 M116.2 430.9L116.3 430.7L116.6 430.0L116.8 429.4 M117.8 426.9L117.9 426.8L118.2 426.1L118.5 425.4L118.8 424.7L119.1 424.0L119.4 423.3L119.7 422.7L120.0 422.0L120.1 421.6 M121.1 419.3L121.1 419.2L121.4 418.5L121.7 417.8 M122.9 415.2L123.0 415.1L123.3 414.4L123.5 413.7 M124.6 411.3L124.7 411.2L125.0 410.5L125.3 409.8L125.6 409.1L125.9 408.4L126.2 407.8L126.6 407.1L126.9 406.4L127.1 406.0 M128.1 403.7L128.2 403.7L128.5 403.0L128.8 402.3L128.8 402.2 M130.1 399.6L130.1 399.6L130.4 398.9L130.7 398.2L130.8 398.1 M132.0 395.6L132.1 395.6L132.4 394.9L132.7 394.2L133.1 393.5L133.4 392.9L133.8 392.2L134.1 391.5L134.5 390.9L134.7 390.3 M135.9 388.0L136.0 388.0L136.3 387.3L136.7 386.7L136.7 386.5 M138.1 383.9L138.2 383.8L138.6 383.1L138.9 382.5L138.9 382.4 M140.3 380.0L140.4 379.9L140.7 379.2L141.1 378.6L141.5 377.9L141.9 377.3L142.2 376.6L142.6 376.0L143.0 375.3L143.4 374.7 M144.7 372.4L144.8 372.3L145.2 371.7L145.6 371.1L145.7 370.9 M147.3 368.3L147.4 368.1L147.8 367.5L148.2 366.8L148.2 366.8 M149.8 364.3L149.8 364.3L150.2 363.7L150.6 363.1L151.1 362.5L151.5 361.8L151.9 361.2L152.3 360.6L152.7 360.0L153.2 359.4L153.4 359.0 M155.0 356.7L155.0 356.7L155.5 356.1L155.9 355.5L156.1 355.2 M158.0 352.6L158.1 352.5L158.6 351.9L159.0 351.3L159.2 351.1 M161.0 348.7L161.2 348.5L161.6 348.0L162.1 347.4L162.6 346.8L163.0 346.2L163.5 345.6L164.0 345.1L164.5 344.5L164.9 343.9L165.4 343.4 M167.3 341.1L167.4 341.0L167.9 340.5L168.4 339.9L168.7 339.6 M171.0 337.0L171.0 336.9L171.6 336.4L172.1 335.8L172.4 335.5 M174.7 333.0L174.8 332.9L175.4 332.4L175.9 331.8L176.4 331.3L176.9 330.8L177.5 330.2L178.0 329.7L178.5 329.2L179.1 328.7L179.6 328.1L180.0 327.8 M182.3 325.6L182.3 325.5L182.9 325.0L183.4 324.5L183.8 324.2 M186.4 321.9L186.4 321.8L187.0 321.3L187.6 320.8L187.9 320.5 M190.3 318.4L190.4 318.4L191.0 317.9L191.6 317.4L192.1 316.9L192.7 316.4L193.3 316.0L193.9 315.5L194.5 315.0L195.1 314.5L195.6 314.1 M197.9 312.3L198.0 312.2L198.6 311.8L199.2 311.3L199.4 311.2 M202.0 309.3L202.1 309.2L202.7 308.8L203.3 308.4L203.5 308.2 M206.0 306.5L206.1 306.3L206.8 305.9L207.4 305.5L208.0 305.1L208.6 304.6L209.2 304.2L209.9 303.8L210.5 303.4L211.1 303.0L211.3 302.9 M213.6 301.4L213.6 301.4L214.3 301.0L214.9 300.6L215.1 300.5 M217.7 298.9L217.7 298.9L218.3 298.5L219.0 298.1L219.2 298.0 M221.6 296.6L221.8 296.5L222.4 296.1L223.1 295.8L223.7 295.4L224.4 295.0L225.0 294.7L225.7 294.3L226.4 294.0L226.9 293.7 M229.2 292.5L229.2 292.5L229.9 292.1L230.6 291.8L230.7 291.7 M233.3 290.4L233.4 290.3L234.1 290.0L234.8 289.7L234.8 289.6 M237.3 288.5L237.5 288.4L238.2 288.1L238.8 287.7L239.5 287.4L240.2 287.1L240.9 286.8L241.6 286.5L242.2 286.2L242.6 286.0 M244.9 285.0L245.0 285.0L245.7 284.7L246.3 284.4L246.4 284.4 M249.0 283.3L249.1 283.3L249.8 283.0L250.5 282.7 M252.9 281.7L253.0 281.7L253.7 281.4L254.4 281.2L255.1 280.9L255.8 280.6L256.5 280.4L257.2 280.1L257.9 279.9L258.2 279.8 M260.5 278.9L260.7 278.9L261.4 278.6L262.0 278.4 M264.6 277.5L264.7 277.5L265.4 277.2L266.1 277.0 M268.6 276.2L268.7 276.2L269.4 275.9L270.1 275.7L270.8 275.5L271.6 275.3L272.3 275.1L273.0 274.8L273.7 274.6L273.9 274.6 M276.2 273.9L276.3 273.8L277.0 273.6L277.7 273.5 M280.3 272.7L280.4 272.7L281.1 272.5L281.8 272.3 M284.2 271.6L284.4 271.6L285.2 271.4L285.9 271.2L286.6 271.0L287.3 270.8L288.1 270.6L288.8 270.5L289.5 270.3L289.5 270.3 M291.8 269.7L291.9 269.7L292.7 269.5L293.3 269.3 M295.9 268.7L296.1 268.7L296.8 268.5L297.4 268.4 M299.9 267.8L299.9 267.8L300.7 267.6L301.4 267.5L302.1 267.3L302.9 267.1L303.6 267.0L304.3 266.8L305.1 266.7L305.2 266.6 M307.5 266.2L307.5 266.1L308.3 266.0L309.0 265.8 M311.6 265.3L311.7 265.3L312.4 265.1L313.1 265.0 M315.5 264.5L315.6 264.5L316.4 264.4L317.1 264.2L317.8 264.1L318.6 263.9L319.3 263.8L320.1 263.7L320.8 263.5L320.8 263.5 M323.1 263.1L323.3 263.1L324.0 262.9L324.6 262.8 M327.2 262.4L327.2 262.4L328.0 262.2L328.7 262.1 M331.2 261.7L331.2 261.7L331.9 261.6L332.7 261.4L333.4 261.3L334.2 261.2L334.9 261.1L335.7 260.9L336.4 260.8L336.5 260.8 M338.8 260.5L338.9 260.4L339.6 260.3L340.3 260.2 M342.9 259.8L342.9 259.8L343.6 259.7L344.4 259.6 M346.8 259.3L346.9 259.3L347.6 259.1L348.4 259.0L349.1 258.9L349.9 258.8L350.6 258.7L351.4 258.6L352.1 258.5L352.1 258.5 M354.4 258.2L354.6 258.2L355.3 258.1L355.9 258.0 M358.5 257.7L358.6 257.7L359.3 257.6L360.0 257.5 M362.5 257.2L362.6 257.2L363.3 257.1L364.1 257.0L364.8 257.0L365.6 256.9L366.3 256.8L367.1 256.7L367.8 256.6 M370.1 256.4L370.1 256.4L370.8 256.3L371.6 256.2 M374.2 255.9L374.3 255.9L375.1 255.8L375.7 255.8 M378.1 255.5L378.3 255.5L379.1 255.4L379.8 255.4L380.6 255.3L381.3 255.2L382.1 255.1L382.8 255.1L383.4 255.0 M385.7 254.8L385.8 254.8L386.6 254.7L387.2 254.7 M389.8 254.4L389.8 254.4L390.6 254.3L391.3 254.3 M393.8 254.1L393.8 254.1L394.6 254.0L395.3 253.9L396.1 253.9L396.8 253.8L397.5 253.7L398.3 253.7L399.0 253.6L399.1 253.6 M401.4 253.4L401.5 253.4L402.3 253.3L402.9 253.3 M405.5 253.1L405.5 253.1L406.2 253.0L407.0 252.9 M409.4 252.7L409.5 252.7L410.2 252.7L411.0 252.6L411.7 252.5L412.4 252.5L413.2 252.4L413.9 252.4L414.7 252.3L414.7 252.3 M417.0 252.1L417.1 252.1L417.9 252.0L418.5 252.0 M421.1 251.8L421.3 251.8L422.1 251.7L422.6 251.7 M425.1 251.5L425.3 251.4L426.0 251.4L426.8 251.3L427.5 251.3L428.2 251.2L429.0 251.1L429.7 251.1L430.4 251.0" stroke="#00ffff" stroke-width="1.50" fill="none"/>
<path d="M315.00 428.90 H348.70" stroke="#000" stroke-width="1.3" fill="none"/>
<path d="M315.00 446.60 H348.90" stroke="#ff0000" stroke-width="1.50" fill="none" stroke-dasharray="5.6 4.7"/>
<path d="M315.50 464.30 H348.90" stroke="#00ff00" stroke-width="1.50" fill="none" stroke-dasharray="1.6 4.55"/>
<path d="M315.00 481.80 H348.90" stroke="#0000ff" stroke-width="1.50" fill="none" stroke-dasharray="6.6 2.5 1.5 2.4"/>
<path d="M315.00 499.50 H348.90" stroke="#00ffff" stroke-width="1.50" fill="none" stroke-dasharray="5.3 2.3 1.5 2.6 1.5 2.45"/>
<g font-family="Liberation Sans, sans-serif" fill="#000" stroke="#000" stroke-width="0.25" style="will-change:opacity;opacity:0.999">
<text transform="translate(37.7 532.00) scale(1 1.050)" font-size="11.8" text-anchor="end">0.00</text>
<text transform="translate(37.7 506.04) scale(1 1.050)" font-size="11.8" text-anchor="end">0.05</text>
<text transform="translate(37.7 480.07) scale(1 1.050)" font-size="11.8" text-anchor="end">0.10</text>
<text transform="translate(37.7 454.11) scale(1 1.050)" font-size="11.8" text-anchor="end">0.15</text>
<text transform="translate(37.7 428.15) scale(1 1.050)" font-size="11.8" text-anchor="end">0.20</text>
<text transform="translate(37.7 402.18) scale(1 1.050)" font-size="11.8" text-anchor="end">0.25</text>
<text transform="translate(37.7 376.22) scale(1 1.050)" font-size="11.8" text-anchor="end">0.30</text>
<text transform="translate(37.7 350.25) scale(1 1.050)" font-size="11.8" text-anchor="end">0.35</text>
<text transform="translate(37.7 324.29) scale(1 1.050)" font-size="11.8" text-anchor="end">0.40</text>
<text transform="translate(37.7 298.33) scale(1 1.050)" font-size="11.8" text-anchor="end">0.45</text>
<text transform="translate(37.7 272.36) scale(1 1.050)" font-size="11.8" text-anchor="end">0.50</text>
<text transform="translate(37.7 246.40) scale(1 1.050)" font-size="11.8" text-anchor="end">0.55</text>
<text transform="translate(43.90 543.60) scale(1 1.050)" font-size="11.8" text-anchor="middle">0.0</text>
<text transform="translate(82.53 543.60) scale(1 1.050)" font-size="11.8" text-anchor="middle">0.4</text>
<text transform="translate(121.16 543.60) scale(1 1.050)" font-size="11.8" text-anchor="middle">0.8</text>
<text transform="translate(159.79 543.60) scale(1 1.050)" font-size="11.8" text-anchor="middle">1.2</text>
<text transform="translate(198.42 543.60) scale(1 1.050)" font-size="11.8" text-anchor="middle">1.6</text>
<text transform="translate(237.05 543.60) scale(1 1.050)" font-size="11.8" text-anchor="middle">2.0</text>
<text transform="translate(275.68 543.60) scale(1 1.050)" font-size="11.8" text-anchor="middle">2.4</text>
<text transform="translate(314.31 543.60) scale(1 1.050)" font-size="11.8" text-anchor="middle">2.8</text>
<text transform="translate(352.94 543.60) scale(1 1.050)" font-size="11.8" text-anchor="middle">3.2</text>
<text transform="translate(391.57 543.60) scale(1 1.050)" font-size="11.8" text-anchor="middle">3.6</text>
<text transform="translate(430.20 543.60) scale(1 1.050)" font-size="11.8" text-anchor="middle">4.0</text>
<text x="0.0" y="260.7" font-size="15.9">S</text>
<text x="406.1" y="557.0" font-size="15.6">T</text>
<text x="316.0" y="416.4" font-size="14.2">n = 0.75</text>
<text x="351.7" y="434.00" font-size="14.4">J = 0.05</text>
<text x="351.7" y="451.70" font-size="14.4">J = 0.125</text>
<text x="351.7" y="469.40" font-size="14.4">J = 1/6</text>
<text x="351.7" y="486.90" font-size="14.4">J = 0.25</text>
<text x="351.7" y="504.60" font-size="14.4">J = 0.5</text>
</g>
</svg>
</body></html>
